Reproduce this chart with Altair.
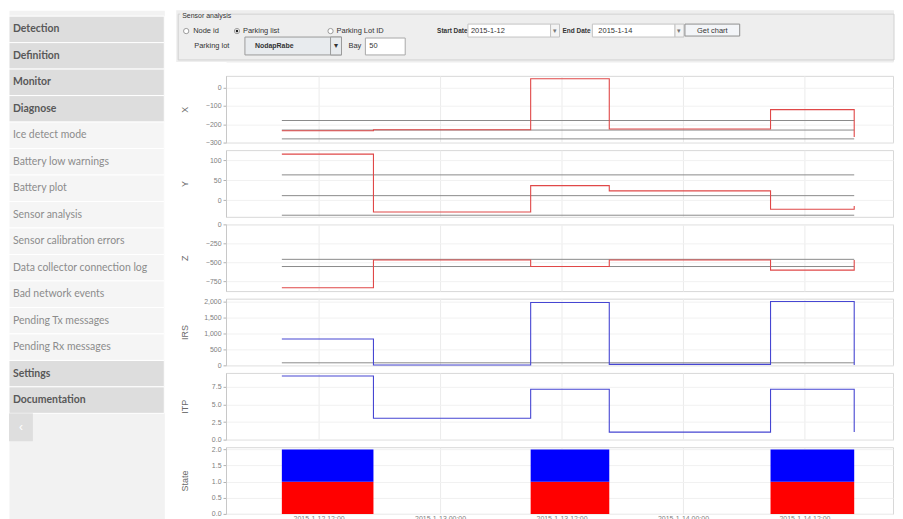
import altair as alt
import pandas as pd

# ---------------- data ----------------
menu_items = ["Detection", "Definition", "Monitor", "Diagnose", "Ice detect mode",
              "Battery low warnings", "Battery plot", "Sensor analysis",
              "Sensor calibration errors", "Data collector connection log",
              "Bad network events", "Pending Tx messages", "Pending Rx messages",
              "Settings", "Documentation"]
menu_kinds = ["header", "header", "header", "header", "item", "item", "item", "item",
              "item", "item", "item", "item", "item", "header", "header"]

step_times = ["2015-01-12T08:22:00", "2015-01-12T17:25:00", "2015-01-13T08:57:00",
              "2015-01-13T16:43:00", "2015-01-14T08:39:00", "2015-01-14T16:55:00"]
x_vals = [-236, -230, 47, -226, -121, -270]
y_vals = [115, -30, 36, 23, -23, -15]
z_vals = [-836, -470, -556, -470, -603, -470]
irs_vals = [831, 10, 1978, 30, 2010, 10]
itp_vals = [9.06, 3.04, 7.18, 1.07, 7.18, 1.07]

ref_start = "2015-01-12T08:22:00"
ref_end = "2015-01-14T16:55:00"
x_refs = [-180, -232, -280]
y_refs = [63, 11, -38]
z_refs = [-461, -556]
irs_refs = [80]
itp_refs = []

state_starts = ["2015-01-12T08:22:00", "2015-01-13T08:57:00", "2015-01-14T08:39:00"]
state_ends = ["2015-01-12T17:25:00", "2015-01-13T16:43:00", "2015-01-14T16:55:00"]
level_names = ["low", "high"]
level_from = [0, 1]
level_to = [1, 2]
level_colors = ["#ff0000", "#0000ff"]

time_domain = ["2015-01-12T02:51:00", "2015-01-14T20:45:00"]
time_ticks = ["2015-01-12T12:00:00", "2015-01-13T00:00:00", "2015-01-13T12:00:00",
              "2015-01-14T00:00:00", "2015-01-14T12:00:00"]

panel_titles = ["X", "Y", "Z", "IRS", "ITP", "State"]
y_domains = [[-300, 63], [-42, 125], [-880, 0], [0, 2100], [0, 9.5], [0, 2.07]]
y_ticks = [[-300, -200, -100, 0], [0, 50, 100], [-750, -500, -250, 0],
           [0, 500, 1000, 1500, 2000], [0, 2.5, 5, 7.5], [0, 0.5, 1, 1.5, 2]]
y_formats = ["d", "d", "d", ",d", ".1f", ".1f"]

ui_title = "Sensor analysis"
radio_labels = ["Node id", "Parking list", "Parking Lot ID"]
date_labels = ["Start Date", "End Date"]
date_values = ["2015-1-12", "2015-1-14"]
button_label = "Get chart"
lot_label = "Parking lot"
lot_value = "NodapRabe"
bay_label = "Bay"
bay_value = "50"

# ---------------- helpers ----------------
def dt(s):
    t = pd.Timestamp(s)
    return alt.DateTime(year=t.year, month=t.month, date=t.day, hours=t.hour, minutes=t.minute)

T_DOMAIN = [dt(s) for s in time_domain]
T_TICKS = [dt(s) for s in time_ticks]
PW, PH = 670, 67
one = pd.DataFrame({"k": [0]})


def xenc(show):
    return alt.X("time:T", scale=alt.Scale(domain=T_DOMAIN),
                 axis=alt.Axis(values=T_TICKS, title=None, labels=show, ticks=False,
                               domain=False, grid=True, format="%Y-%-m-%-d %H:%M"))


def yenc(i):
    return alt.Y("value:Q", scale=alt.Scale(domain=y_domains[i], nice=False, zero=False),
                 axis=alt.Axis(title=panel_titles[i], values=y_ticks[i], format=y_formats[i]))


def line_panel(i, vals, refs, color):
    layers = []
    if refs:
        rdf = pd.DataFrame({"time": [ref_start] * len(refs), "time2": [ref_end] * len(refs),
                            "value": refs})
        layers.append(alt.Chart(rdf).mark_rule(color="#8a8a8a", strokeWidth=1).encode(
            x=xenc(False), x2=alt.X2("time2:T"), y=yenc(i)))
    ldf = pd.DataFrame({"time": step_times, "value": vals})
    layers.append(alt.Chart(ldf).mark_line(interpolate="step-after", color=color,
                                           strokeWidth=1.1).encode(x=xenc(False), y=yenc(i)))
    return alt.layer(*layers).properties(width=PW, height=PH)


panels = [
    line_panel(0, x_vals, x_refs, "#e04848"),
    line_panel(1, y_vals, y_refs, "#e04848"),
    line_panel(2, z_vals, z_refs, "#e04848"),
    line_panel(3, irs_vals, irs_refs, "#4646d2"),
    line_panel(4, itp_vals, itp_refs, "#4646d2"),
]

srows = []
for s, e in zip(state_starts, state_ends):
    for name, lo, hi in zip(level_names, level_from, level_to):
        srows.append({"time": s, "time2": e, "value": lo, "value2": hi, "level": name})
sdf = pd.DataFrame(srows)
state_layers = []
for name, col in zip(level_names, level_colors):
    state_layers.append(
        alt.Chart(sdf).transform_filter(alt.datum.level == name).mark_rect(color=col).encode(
            x=xenc(True), x2=alt.X2("time2:T"), y=yenc(5), y2=alt.Y2("value2:Q")))
panels.append(alt.layer(*state_layers).properties(width=PW, height=PH))

plots = alt.vconcat(*panels, spacing=7.6, bounds="flush")

# ---------------- sidebar ----------------
mdf = pd.DataFrame({"item": menu_items, "kind": menu_kinds})
yband = alt.Y("item:N", sort=menu_items, axis=None,
              scale=alt.Scale(range=[6, 405], paddingInner=0, paddingOuter=0))


def side_rows(kind, fill):
    return alt.Chart(mdf).transform_filter(alt.datum.kind == kind).mark_rect(
        color=fill, stroke="#ffffff", strokeWidth=1).encode(
        y=yband, x=alt.value(0), x2=alt.value(156))


side_head = alt.Chart(mdf).transform_filter(alt.datum.kind == "header").mark_text(
    align="left", baseline="middle", font="Lato", fontSize=10.5, fontWeight="bold",
    color="#585858").encode(y=yband, x=alt.value(4), text="item:N")
side_item = alt.Chart(mdf).transform_filter(alt.datum.kind == "item").mark_text(
    align="left", baseline="middle", font="Lato", fontSize=10.5, color="#8c8c8c").encode(
    y=yband, x=alt.value(4), text="item:N")
side_box = alt.Chart(one).mark_rect(color="#dedede").encode(
    x=alt.value(0), x2=alt.value(24), y=alt.value(405), y2=alt.value(433))
side_box_t = alt.Chart(one).mark_text(text="\u2039", color="#ffffff", fontSize=12).encode(
    x=alt.value(12), y=alt.value(419))
sidebar = alt.layer(side_rows("header", "#dddddd"), side_rows("item", "#f5f5f5"),
                    side_head, side_item, side_box, side_box_t).properties(
    width=156, height=511, view=alt.ViewBackground(fill="#f2f2f2", stroke="transparent"))

# ---------------- controls (page positions, converted to the panel origin) ----------------
OX, OY = 222, 8


def txt(s, x, y, size=7.5, weight="normal", color="#333333", align="left"):
    return alt.Chart(one).mark_text(text=s, align=align, baseline="middle", fontSize=size,
                                    fontWeight=weight, color=color,
                                    font="Liberation Sans").encode(
        x=alt.value(x - OX), y=alt.value(y - OY))


def box(x1, x2, y1, y2, fill, stroke="#a8a8a8", sw=1):
    return alt.Chart(one).mark_rect(fill=fill, stroke=stroke, strokeWidth=sw).encode(
        x=alt.value(x1 - OX), x2=alt.value(x2 - OX), y=alt.value(y1 - OY), y2=alt.value(y2 - OY))


def radio(x, y, on=False):
    out = [alt.Chart(one).mark_circle(size=28, color="#ffffff", stroke="#9a9a9a",
                                      strokeWidth=1, opacity=1).encode(
        x=alt.value(x - OX), y=alt.value(y - OY))]
    if on:
        out.append(alt.Chart(one).mark_circle(size=7, color="#222222", opacity=1).encode(
            x=alt.value(x - OX), y=alt.value(y - OY)))
    return out


r1, r2 = 29, 44
ctrl_layers = [
    box(172, 893, 8, 60, "#eeeeee", "transparent"),
    box(174, 893, 12, 58, "transparent", "#d2d2d2"),
    box(176, 226, 9, 17, "#eeeeee", "transparent"),
    txt(ui_title, 178, 14, size=7),
    *radio(182, r1), txt(radio_labels[0], 189, r1),
    *radio(233, r1, True), txt(radio_labels[1], 239, r1),
    *radio(327, r1), txt(radio_labels[2], 333, r1),
    txt(date_labels[0], 434, r1, weight="bold", size=6.5),
    box(465, 548, 22, 35, "#ffffff", "#c4c4c4"),
    box(548, 557, 22, 35, "#f4f4f4", "#c4c4c4"),
    txt("\u25be", 552.5, r1, size=7, color="#777777", align="center"),
    txt(date_values[0], 468, r1),
    txt(date_labels[1], 560, r1, weight="bold", size=6.5),
    box(590, 673, 22, 35, "#ffffff", "#c4c4c4"),
    box(673, 682, 22, 35, "#f4f4f4", "#c4c4c4"),
    txt("\u25be", 677.5, r1, size=7, color="#777777", align="center"),
    txt(date_values[1], 596, r1),
    box(683, 738, 22, 34, "#f3f5f8", "#8e8e8e"),
    txt(button_label, 710.5, r1 - 0.5, align="center"),
    txt(lot_label, 190, r2),
    box(241, 338, 35, 53, "#e8ebee", "#9a9a9a"),
    box(327, 338, 35, 53, "#e8ebee", "#9a9a9a"),
    txt("\u25be", 332.5, r2, size=8, color="#333333", align="center"),
    txt(lot_value, 251, r2, weight="bold", size=7),
    txt(bay_label, 345, r2),
    box(362, 402, 36, 53, "#ffffff", "#a8a8a8"),
    txt(bay_value, 366, r2),
]
controls = alt.layer(*ctrl_layers).properties(
    width=PW, height=52, view=alt.ViewBackground(fill="#eeeeee", stroke="transparent"))

main = alt.vconcat(controls, plots, spacing=12)

chart = alt.hconcat(sidebar, main, spacing=10).properties(padding=0).configure(
    background="#ffffff"
).configure_view(stroke="#d8d8d8").configure_axisY(
    labelFontSize=7, labelColor="#808080", labelFont="Liberation Sans", tickSize=3,
    tickColor="#b0b0b0", domainColor="#c8c8c8", labelPadding=2, titleFont="Liberation Sans",
    titleFontSize=9, titleFontWeight="normal", titleColor="#6a6a6a", titlePadding=3,
    minExtent=34, maxExtent=34, gridColor="#f1f1f1"
).configure_axisX(
    labelFontSize=7, labelColor="#808080", labelFont="Liberation Sans", gridColor="#ebebeb",
    labelPadding=1
)

chart.save("out.html", embed_options={"renderer": "svg", "actions": False})
